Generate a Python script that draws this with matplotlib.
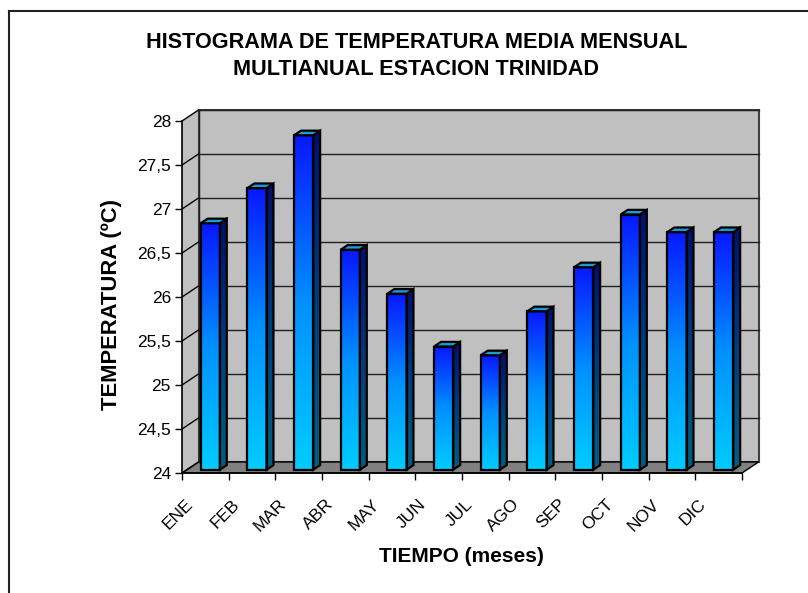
import numpy as np
import matplotlib
matplotlib.use("Agg")
import matplotlib.pyplot as plt
from matplotlib.patches import Polygon
from matplotlib.colors import LinearSegmentedColormap
from matplotlib.lines import Line2D
from matplotlib.ticker import FuncFormatter, FixedLocator

plt.rcParams['font.family'] = ['Liberation Sans', 'DejaVu Sans']

# datos
meses = ["ENE", "FEB", "MAR", "ABR", "MAY", "JUN", "JUL", "AGO", "SEP", "OCT", "NOV", "DIC"]
temperatura = [26.8, 27.2, 27.8, 26.5, 26.0, 25.4, 25.3, 25.8, 26.3, 26.9, 26.7, 26.7]
y_ticks = [24, 24.5, 25, 25.5, 26, 26.5, 27, 27.5, 28]

titulo = "HISTOGRAMA DE TEMPERATURA MEDIA MENSUAL\nMULTIANUAL ESTACION TRINIDAD"
etiqueta_y = "TEMPERATURA (ºC)"
etiqueta_x = "TIEMPO (meses)"

W, H = 808, 593
fig = plt.figure(figsize=(W / 100, H / 100), dpi=100)

# ejes: frente del grafico 3D en unidades de datos
ymin, ymax = 24, 28
xlo, xhi = -0.3, 12.6
ylo, yhi = 23.85, 28.25
px_x = 46.67   # pixeles por categoria
px_y = 88.0    # pixeles por grado
left_px = 182 + xlo * px_x
right_px = 182 + xhi * px_x
bot_px = 473 + (ymin - ylo) * px_y
top_px = 473 - (yhi - ymin) * px_y
ax = fig.add_axes([left_px / W, 1 - bot_px / H, (right_px - left_px) / W, (bot_px - top_px) / H])
ax.set_xlim(xlo, xhi)
ax.set_ylim(ylo, yhi)

n = len(meses)
DX, DY = 16.5 / px_x, 11 / px_y   # profundidad


def P(x, y, f):
    return (x + f * DX, y + f * DY)


# pared izquierda
ax.add_patch(Polygon([P(0, ymin, 0), P(0, ymin, 1), P(0, ymax, 1), P(0, ymax, 0)],
                     closed=True, facecolor="#C0C0C0", edgecolor="none", zorder=1))
# pared del fondo
ax.add_patch(Polygon([P(0, ymin, 1), P(n, ymin, 1), P(n, ymax, 1), P(0, ymax, 1)],
                     closed=True, facecolor="#C0C0C0", edgecolor="#404040", lw=1.5, zorder=1))
# piso
ax.add_patch(Polygon([P(0, ymin, 0), P(n, ymin, 0), P(n, ymin, 1), P(0, ymin, 1)],
                     closed=True, facecolor="#808080", edgecolor="black", lw=1.0, zorder=2))

# lineas de division
for v in y_ticks:
    if v > ymin:
        ax.plot([P(0, v, 1)[0], P(n, v, 1)[0]], [P(0, v, 1)[1], P(n, v, 1)[1]],
                color="#202020", lw=1.0, zorder=2)
    ax.plot([P(0, v, 0)[0], P(0, v, 1)[0]], [P(0, v, 0)[1], P(0, v, 1)[1]],
            color="black", lw=1.0, zorder=2)
ax.plot([P(0, ymin, 1)[0], P(0, ymax, 1)[0]], [P(0, ymin, 1)[1], P(0, ymax, 1)[1]],
        color="#202020", lw=1.0, zorder=2)

# barras con degradado
cm_front = LinearSegmentedColormap.from_list("front", ["#00CCFF", "#0090FF", "#0818FF"])
cm_side = LinearSegmentedColormap.from_list("side", ["#006080", "#003C7A", "#00106A"])
ramp = np.linspace(0, 1, 256).reshape(-1, 1)
w = 0.41
f0, f1 = 0.3, 0.72
for i, v in enumerate(temperatura):
    c = i + 0.5
    xa, xb = c - w / 2, c + w / 2
    front = [P(xa, ymin, f0), P(xb, ymin, f0), P(xb, v, f0), P(xa, v, f0)]
    side = [P(xb, ymin, f0), P(xb, ymin, f1), P(xb, v, f1), P(xb, v, f0)]
    top = [P(xa, v, f0), P(xb, v, f0), P(xb, v, f1), P(xa, v, f1)]
    for poly, cmap in ((front, cm_front), (side, cm_side)):
        pts = np.array(poly)
        patch = Polygon(poly, closed=True, facecolor="none", edgecolor="black", lw=1.6, zorder=4)
        ax.add_patch(patch)
        im = ax.imshow(ramp, cmap=cmap, origin="lower", aspect="auto", zorder=3,
                       extent=[pts[:, 0].min(), pts[:, 0].max(), pts[:, 1].min(), pts[:, 1].max()])
        im.set_clip_path(patch)
    ax.add_patch(Polygon(top, closed=True, facecolor="#1C9AD6", edgecolor="black", lw=1.6, zorder=4))

ax.set_xlim(xlo, xhi)
ax.set_ylim(ylo, yhi)
ax.set_aspect("auto")

# ejes
for s in ("top", "right"):
    ax.spines[s].set_visible(False)
ax.spines["left"].set_position(("data", 0))
ax.spines["left"].set_bounds(ymin, ymax)
ax.spines["bottom"].set_position(("data", ymin))
ax.spines["bottom"].set_bounds(0, n)
ax.spines["left"].set_linewidth(1.2)
ax.spines["bottom"].set_linewidth(1.2)
ax.spines["left"].set_zorder(5)
ax.spines["bottom"].set_zorder(5)
ax.set_facecolor("none")

ax.yaxis.set_major_locator(FixedLocator(y_ticks))
ax.yaxis.set_major_formatter(FuncFormatter(lambda v, p: ("%g" % v).replace(".", ",")))
ax.tick_params(axis="y", direction="out", length=5, width=1.0, pad=3, labelsize=12.5)
ax.xaxis.set_major_locator(FixedLocator(range(n + 1)))
ax.tick_params(axis="x", direction="out", length=5, width=1.0, labelbottom=False)

for i, m in enumerate(meses):
    ax.text(i + 0.5 - 0.25, ymin - 32 / px_y, m, rotation=45, rotation_mode="anchor",
            ha="right", va="baseline", fontsize=12.5, clip_on=False)

fig.text(0.5 * (145 + 688) / W, 1 - 56 / H, titulo, ha="center", va="center",
         fontsize=15.6, fontweight="bold", linespacing=1.38)
fig.text(112 / W, 1 - 305 / H, etiqueta_y, rotation=90, ha="center", va="center",
         fontsize=15.8, fontweight="bold")
fig.text(461 / W, 1 - 556 / H, etiqueta_x, ha="center", va="center",
         fontsize=15, fontweight="bold")

# borde del area del grafico
fig.add_artist(Line2D([8.5 / W, 8.5 / W], [0, 1 - 11 / H], color="#222222", lw=1.5,
                      transform=fig.transFigure))
fig.add_artist(Line2D([8.5 / W, 1], [1 - 11 / H, 1 - 11 / H], color="#222222", lw=1.5,
                      transform=fig.transFigure))

plt.savefig("out.png", dpi=100)
